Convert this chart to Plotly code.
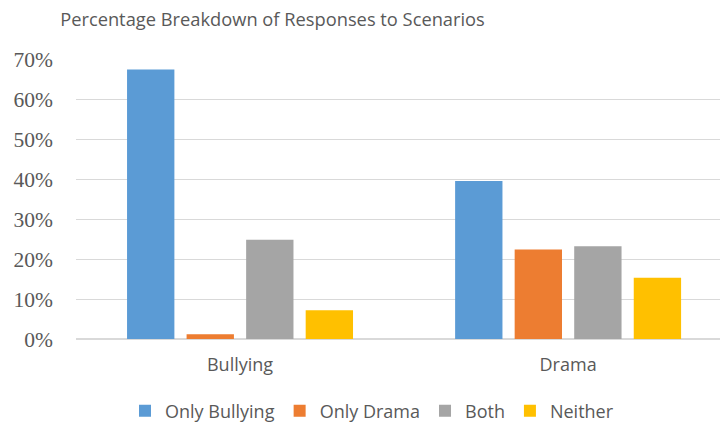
import plotly.graph_objects as go

categories = ["Bullying", "Drama"]
series_names = ["Only Bullying", "Only Drama", "Both", "Neither"]
only_bullying = [0.674, 0.395]
only_drama = [0.012, 0.224]
both = [0.248, 0.232]
neither = [0.072, 0.153]
colors = ["#5B9BD5", "#ED7D31", "#A5A5A5", "#FFC000"]
y_ticks = [0, 0.1, 0.2, 0.3, 0.4, 0.5, 0.6, 0.7]

fig = go.Figure()
for name, vals, col in zip(series_names, [only_bullying, only_drama, both, neither], colors):
    fig.add_trace(go.Bar(x=categories, y=vals, name=name, marker=dict(color=col, line=dict(width=0))))

fig.update_layout(
    width=720, height=426,
    paper_bgcolor="white", plot_bgcolor="white",
    margin=dict(l=76, r=0, t=59, b=87),
    barmode="group", bargap=0.274, bargroupgap=0.205,
    title=dict(text="Percentage Breakdown of Responses to Scenarios",
               x=272.5/720, xanchor="center", y=1-20/426, yanchor="middle",
               font=dict(family="Open Sans", size=18.3, color="#595959", weight=400)),
    xaxis=dict(type="category", range=[-0.5, 1.463], showgrid=False,
               showline=False, ticks="", tickfont=dict(family="Open Sans", size=18, color="#595959"),
               ticklabelstandoff=13),
    yaxis=dict(range=[0, 0.7], tickvals=y_ticks, tickformat=".0%",
               showgrid=True, gridcolor="#D9D9D9", gridwidth=1,
               zeroline=True, zerolinecolor="#D9D9D9", zerolinewidth=2,
               showline=False, ticks="",
               tickfont=dict(family="Liberation Serif", size=21.5, color="#595959"),
               ticklabelstandoff=22),
    legend=dict(orientation="h", x=125/720, xanchor="left", xref="container",
                y=1-411/426, yanchor="middle", yref="container",
                font=dict(family="Open Sans", size=18, color="#595959"),
                itemwidth=30, traceorder="normal"),
    showlegend=True,
)

fig.write_html("out.html", config={"displayModeBar": False},
               post_script="document.body.style.margin='0px';")
